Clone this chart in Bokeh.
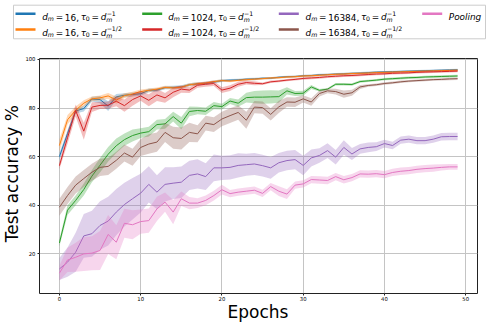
from math import pi
from bokeh.plotting import figure
from bokeh.models import Range1d, FixedTicker
from bokeh.layouts import column, row
from bokeh.core.properties import value
from bokeh.embed import file_html
from bokeh.resources import INLINE

# ---------------- data ----------------
epochs = list(range(50))

acc_d16_inv = [60.0, 69.5, 78.8, 79.8, 83.7, 83.5, 80.8, 84.6, 85.3, 85.6,
               85.9, 87.3, 87.4, 88.4, 88.5, 88.7, 89.6, 90.0, 90.2, 90.7,
               91.3, 91.5, 91.6, 91.9, 92.0, 92.3, 92.3, 92.7, 92.9, 93.0,
               93.3, 93.4, 93.7, 93.8, 94.0, 94.1, 94.3, 94.4, 94.6, 94.8,
               94.9, 95.0, 95.1, 95.2, 95.3, 95.4, 95.5, 95.6, 95.7, 95.8]
std_d16_inv = [1.5, 1.5, 1.0, 1.2, 1.0, 1.5, 2.0, 1.2, 0.8, 0.8,
               0.8, 0.8, 0.7, 0.7, 0.7, 0.7, 0.6, 0.6, 0.6, 0.6,
               0.6, 0.5, 0.5, 0.5, 0.5, 0.4, 0.4, 0.4, 0.4, 0.4,
               0.4, 0.4, 0.4, 0.4, 0.4, 0.4, 0.4, 0.4, 0.4, 0.4,
               0.4, 0.4, 0.4, 0.4, 0.4, 0.4, 0.4, 0.4, 0.4, 0.4]

acc_d16_sqrt = [64.6, 75.2, 79.1, 82.0, 83.8, 84.2, 85.0, 83.3, 85.1, 85.8,
                86.8, 87.3, 87.8, 88.5, 88.3, 88.6, 89.6, 90.0, 90.3, 90.9,
                91.3, 91.1, 91.4, 91.7, 91.9, 92.1, 92.4, 92.5, 92.8, 92.9,
                93.2, 93.3, 93.5, 93.7, 93.9, 94.0, 94.2, 94.3, 94.4, 94.6,
                94.7, 94.8, 94.9, 95.0, 95.1, 95.2, 95.3, 95.4, 95.5, 95.6]
std_d16_sqrt = [2.5, 2.0, 1.5, 1.2, 1.0, 1.0, 1.2, 1.5, 1.0, 0.9,
                0.8, 0.8, 0.7, 0.7, 0.7, 0.6, 0.6, 0.6, 0.5, 0.5,
                0.5, 0.5, 0.5, 0.5, 0.4, 0.4, 0.4, 0.4, 0.4, 0.4,
                0.4, 0.4, 0.4, 0.4, 0.4, 0.4, 0.4, 0.4, 0.4, 0.4,
                0.4, 0.4, 0.4, 0.4, 0.4, 0.4, 0.4, 0.4, 0.4, 0.4]

acc_d1024_inv = [24.5, 38.0, 42.0, 46.5, 52.0, 56.5, 61.0, 64.5, 67.0, 68.7,
                 69.7, 70.3, 73.2, 73.5, 76.5, 73.8, 78.6, 79.0, 78.7, 81.0,
                 80.6, 82.9, 82.0, 84.3, 84.5, 84.5, 84.6, 84.7, 87.1, 86.0,
                 86.1, 88.7, 87.3, 87.8, 89.8, 89.8, 89.7, 90.9, 91.2, 91.5,
                 91.9, 92.1, 92.3, 92.5, 92.6, 92.8, 92.9, 93.0, 93.1, 93.2]
std_d1024_inv = [1.5, 2.0, 2.0, 2.5, 2.5, 3.0, 3.0, 3.0, 2.5, 2.5,
                 2.0, 2.0, 2.0, 2.0, 2.0, 2.5, 2.0, 1.5, 1.5, 1.5,
                 1.2, 1.2, 1.5, 2.0, 2.5, 2.7, 2.7, 2.5, 1.5, 1.0,
                 1.0, 0.8, 0.5, 0.5, 0.5, 0.5, 0.5, 0.5, 0.5, 0.5,
                 0.5, 0.5, 0.5, 0.5, 0.5, 0.5, 0.5, 0.5, 0.5, 0.5]

acc_d1024_sqrt = [56.3, 67.8, 79.0, 70.5, 80.4, 81.1, 81.2, 82.8, 81.0, 83.5,
                  85.0, 83.2, 85.4, 84.2, 86.5, 87.8, 87.4, 89.4, 89.8, 90.1,
                  87.4, 88.2, 89.8, 90.5, 90.2, 90.0, 90.8, 91.1, 91.5, 91.8,
                  92.2, 92.4, 92.6, 92.9, 93.1, 93.3, 93.4, 93.6, 93.8, 94.0,
                  94.1, 94.3, 94.4, 94.5, 94.7, 94.8, 94.9, 95.0, 95.1, 95.2]
std_d1024_sqrt = [1.5, 2.5, 2.5, 3.5, 2.0, 1.5, 1.5, 2.0, 2.5, 2.5,
                  2.0, 2.5, 2.5, 2.0, 2.0, 1.5, 1.2, 1.0, 1.0, 1.0,
                  1.2, 1.2, 1.0, 0.8, 0.8, 0.5, 0.5, 0.5, 0.5, 0.5,
                  0.5, 0.5, 0.5, 0.5, 0.5, 0.5, 0.5, 0.5, 0.5, 0.5,
                  0.5, 0.5, 0.5, 0.5, 0.5, 0.5, 0.5, 0.5, 0.5, 0.5]

acc_d16384_inv = [13.8, 16.6, 20.7, 27.4, 28.3, 31.7, 33.5, 37.2, 40.3, 42.7,
                  45.0, 48.6, 45.4, 48.6, 49.1, 49.5, 52.3, 52.9, 51.8, 55.4,
                  55.4, 55.6, 56.4, 56.7, 57.0, 56.3, 55.4, 57.5, 58.4, 58.8,
                  56.4, 59.5, 60.5, 62.5, 59.8, 63.8, 61.1, 63.2, 63.8, 64.1,
                  65.4, 64.6, 66.8, 67.2, 66.6, 66.6, 67.2, 68.2, 68.3, 68.3]
std_d16384_inv = [4.5, 6.0, 8.0, 9.0, 9.5, 10.0, 10.0, 9.5, 9.0, 8.5,
                  8.0, 7.5, 7.0, 7.0, 6.5, 6.5, 6.0, 6.0, 5.5, 5.5,
                  5.0, 5.0, 5.0, 4.5, 4.5, 4.5, 4.5, 4.0, 4.0, 4.0,
                  4.0, 3.5, 3.0, 3.0, 3.0, 3.0, 2.5, 2.0, 2.0, 1.8,
                  1.6, 1.5, 1.5, 1.5, 1.5, 1.5, 1.5, 1.5, 1.5, 1.5]

acc_d16384_sqrt = [39.2, 44.0, 48.3, 51.0, 53.6, 55.6, 56.0, 58.5, 61.5, 59.8,
                   63.8, 65.2, 66.0, 70.0, 67.8, 67.5, 70.0, 69.4, 73.8, 73.2,
                   75.5, 76.9, 78.2, 75.0, 80.4, 80.2, 77.4, 80.5, 82.5, 82.4,
                   83.8, 82.5, 86.0, 87.1, 86.8, 85.7, 86.3, 88.7, 89.3, 89.6,
                   90.1, 90.4, 90.8, 91.1, 91.3, 91.5, 91.7, 91.8, 92.0, 92.1]
std_d16384_sqrt = [3.5, 3.5, 3.5, 3.5, 3.5, 3.5, 3.5, 3.5, 3.5, 3.5,
                   3.5, 4.0, 4.0, 4.0, 4.5, 4.5, 4.0, 3.5, 3.0, 3.0,
                   3.0, 3.0, 3.0, 3.5, 2.5, 2.5, 2.5, 2.5, 2.0, 2.0,
                   1.5, 1.5, 1.2, 1.0, 1.2, 1.5, 1.2, 0.8, 0.5, 0.5,
                   0.5, 0.5, 0.5, 0.5, 0.5, 0.5, 0.5, 0.5, 0.5, 0.5]

acc_pooling = [12.1, 17.5, 18.6, 20.0, 20.3, 21.4, 28.0, 24.8, 32.6, 32.0,
               33.3, 33.7, 38.5, 41.3, 37.2, 42.7, 40.9, 40.9, 42.0, 44.0,
               46.4, 44.8, 45.4, 45.8, 46.2, 44.9, 47.7, 45.8, 44.6, 48.3,
               48.8, 50.6, 50.4, 50.2, 51.8, 50.5, 51.4, 52.9, 52.8, 53.0,
               52.6, 53.5, 54.0, 54.3, 54.8, 55.1, 55.3, 55.6, 55.8, 55.8]
std_pooling = [3.0, 5.0, 6.0, 7.0, 7.0, 8.0, 8.0, 7.0, 6.0, 6.0,
               5.0, 5.0, 5.0, 4.0, 5.0, 3.0, 2.5, 2.0, 2.0, 2.0,
               2.0, 1.5, 1.5, 1.5, 1.5, 1.5, 1.5, 2.0, 2.0, 1.5,
               1.5, 1.5, 1.5, 1.5, 1.5, 1.5, 1.5, 1.5, 1.5, 1.5,
               1.5, 1.5, 1.5, 1.5, 1.5, 1.5, 1.5, 1.3, 1.2, 1.2]

x_ticks = [0, 10, 20, 30, 40, 50]
y_ticks = [20, 40, 60, 80, 100]
x_label = "Epochs"
y_label = "Test accuracy %"

# (colour, mean, std, d_m, exponent / plain label)
series = [
    ("#1f77b4", acc_d16_inv, std_d16_inv, "16", "\u22121"),
    ("#ff7f0e", acc_d16_sqrt, std_d16_sqrt, "16", "\u22121/2"),
    ("#2ca02c", acc_d1024_inv, std_d1024_inv, "1024", "\u22121"),
    ("#d62728", acc_d1024_sqrt, std_d1024_sqrt, "1024", "\u22121/2"),
    ("#9467bd", acc_d16384_inv, std_d16384_inv, "16384", "\u22121"),
    ("#8c564b", acc_d16384_sqrt, std_d16384_sqrt, "16384", "\u22121/2"),
    ("#e377c2", acc_pooling, std_pooling, None, "Pooling"),
]

FONT = "DejaVu Sans"
W_TOTAL = 498
H_LEG = 50
H_MAIN = 253
H_XLAB = 22
W_YLAB = 22


def blank(width, height, xr, yr):
    f = figure(width=width, height=height, x_range=Range1d(*xr), y_range=Range1d(*yr),
               output_backend="svg", toolbar_location=None, min_border=0,
               x_axis_location=None, y_axis_location=None)
    f.grid.visible = False
    f.outline_line_color = None
    f.background_fill_color = "white"
    f.border_fill_color = "white"
    return f


# ---------------- main plot ----------------
p = figure(width=W_TOTAL - W_YLAB, height=H_MAIN,
           x_range=Range1d(-2.45, 51.45), y_range=Range1d(3.7, 100.4),
           output_backend="svg", toolbar_location=None,
           min_border_left=15, min_border_right=21,
           min_border_top=8, min_border_bottom=10)
p.background_fill_color = "white"
p.border_fill_color = "white"
p.outline_line_color = "#222222"
p.outline_line_width = 1

p.xaxis.ticker = FixedTicker(ticks=x_ticks)
p.yaxis.ticker = FixedTicker(ticks=y_ticks)
for ax in (p.xaxis[0], p.yaxis[0]):
    ax.axis_line_color = None
    ax.minor_tick_line_color = None
    ax.major_tick_in = 0
    ax.major_tick_out = 2
    ax.major_tick_line_color = "#222222"
    ax.major_label_text_font = FONT
    ax.major_label_text_font_size = "5.3px"
    ax.major_label_text_color = "black"
p.xaxis.major_label_standoff = 1
p.yaxis.major_label_standoff = 2

p.xgrid.grid_line_color = "#c4c4c4"
p.ygrid.grid_line_color = "#c4c4c4"
p.xgrid.grid_line_width = 1
p.ygrid.grid_line_width = 1

for color, mean, std, dm, lab in series:
    lo = [m - s for m, s in zip(mean, std)]
    hi = [m + s for m, s in zip(mean, std)]
    p.varea(x=epochs, y1=lo, y2=hi, fill_color=color, fill_alpha=0.3)
    p.line(x=epochs, y=mean, line_color=color, line_width=1.0)

# ---------------- axis titles ----------------
ylab = blank(W_YLAB, H_MAIN, (0, W_YLAB), (0, H_MAIN))
ylab.text(x=[11.4], y=[(H_LEG + H_MAIN) - 174], text=[y_label], angle=pi / 2,
          text_font=value(FONT), text_font_size=value("17px"),
          text_align=value("center"), text_baseline=value("middle"),
          text_color="black")

xlab = blank(W_TOTAL, H_XLAB, (0, W_TOTAL), (0, H_XLAB))
xlab.text(x=[257.5], y=[325 - 311.5], text=[x_label],
          text_font=value(FONT), text_font_size=value("17px"),
          text_align=value("center"), text_baseline=value("middle"),
          text_color="black")

# ---------------- legend ----------------
leg = blank(W_TOTAL, H_LEG, (0, W_TOTAL), (0, H_LEG))


def py(page_y):
    return H_LEG - page_y


leg.quad(left=[13], right=[485], top=[py(4.7)], bottom=[py(38.3)],
         fill_color="white", line_color="#cccccc", line_width=1)

F = 8.9
EM = {"d": 0.635, "m": 0.974, "=": 0.838, ",": 0.318, "\u03c4": 0.57,
      "\u2212": 0.838, "/": 0.337, " ": 0.318}
for ch in "0123456789":
    EM[ch] = 0.636

col_swatch = [15, 141.7, 278.3, 421.7]
col_text = [41.7, 167.7, 305, 448.3]
row_mid = [13.3, 29.0]
row_base = [16.7, 32.4]

groups = {}


def put(x, y, txt, scale, italic):
    key = (scale, italic)
    g = groups.setdefault(key, {"x": [], "y": [], "text": []})
    g["x"].append(x)
    g["y"].append(y)
    g["text"].append(txt)
    return sum(EM.get(c, 0.6) for c in txt) * F * scale


for i, (color, mean, std, dm, lab) in enumerate(series):
    col, r = i // 2, i % 2
    ys = py(row_mid[r])
    leg.line(x=[col_swatch[col], col_swatch[col] + 20], y=[ys, ys],
             line_color=color, line_width=2.5)
    x = col_text[col]
    yb = py(row_base[r])
    if dm is None:
        put(x, yb, lab, 1, True)
        continue
    sp = 0.2 * EM["m"] * F
    x += put(x, yb, "d", 1, True)
    x += put(x, yb - 0.2 * F, "m", 0.7, True)
    x += sp
    x += put(x, yb, "=", 1, False)
    x += sp
    x += put(x, yb, dm, 1, False)
    x += put(x, yb, ",", 1, False)
    x += sp
    x += put(x, yb, "\u03c4", 1, True)
    x += put(x, yb - 0.2 * F, "0", 0.7, False)
    x += sp
    x += put(x, yb, "=", 1, False)
    x += sp
    x += put(x, yb, "d", 1, True)
    put(x, yb - 0.25 * F, "m", 0.7, True)
    put(x + 0.3, yb + 0.45 * F, lab, 0.7, False)

for (scale, italic), g in groups.items():
    leg.text(x=g["x"], y=g["y"], text=g["text"],
             text_font=value(FONT), text_font_size=value(f"{F * scale:.2f}px"),
             text_font_style=value("italic" if italic else "normal"),
             text_align=value("left"), text_baseline=value("alphabetic"),
             text_color="black")

layout = column(leg, row(ylab, p), xlab)
open("out.html", "w").write(file_html(layout, INLINE))
